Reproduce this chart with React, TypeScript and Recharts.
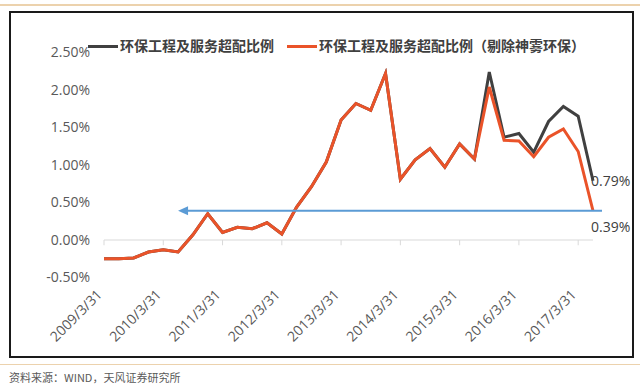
import {
  LineChart,
  Line,
  XAxis,
  YAxis,
  ReferenceLine,
  LabelList,
} from "recharts";

// quarter ends, 2009Q1 - 2017Q2
const dates = [
  "2009/3/31", "2009/6/30", "2009/9/30", "2009/12/31",
  "2010/3/31", "2010/6/30", "2010/9/30", "2010/12/31",
  "2011/3/31", "2011/6/30", "2011/9/30", "2011/12/31",
  "2012/3/31", "2012/6/30", "2012/9/30", "2012/12/31",
  "2013/3/31", "2013/6/30", "2013/9/30", "2013/12/31",
  "2014/3/31", "2014/6/30", "2014/9/30", "2014/12/31",
  "2015/3/31", "2015/6/30", "2015/9/30", "2015/12/31",
  "2016/3/31", "2016/6/30", "2016/9/30", "2016/12/31",
  "2017/3/31", "2017/6/30",
];

// 环保工程及服务超配比例 (%)
const overweight = [
  -0.25, -0.25, -0.24, -0.16, -0.13, -0.16, 0.07, 0.35,
  0.1, 0.17, 0.15, 0.23, 0.08, 0.44, 0.71, 1.04,
  1.6, 1.82, 1.73, 2.22, 0.81, 1.07, 1.22, 0.97,
  1.28, 1.08, 2.24, 1.37, 1.42, 1.17, 1.58, 1.78,
  1.65, 0.79,
];

// 剔除神雾环保 (%)
const overweightEx = [
  -0.25, -0.25, -0.24, -0.16, -0.13, -0.16, 0.07, 0.35,
  0.1, 0.17, 0.15, 0.23, 0.08, 0.44, 0.71, 1.04,
  1.6, 1.82, 1.73, 2.22, 0.81, 1.07, 1.22, 0.97,
  1.28, 1.08, 2.04, 1.33, 1.32, 1.11, 1.37, 1.48,
  1.18, 0.39,
];

const yTicks = [-0.5, 0, 0.5, 1, 1.5, 2, 2.5];
const yearTicks = dates.filter((_, i) => i % 4 === 0);
const arrowFrom = "2010/6/30";
const arrowLevel = 0.39;

const seriesNames = ["环保工程及服务超配比例", "环保工程及服务超配比例（剔除神雾环保）"];

const data = dates.map((d, i) => ({
  date: d,
  all: overweight[i],
  ex: overweightEx[i],
}));

const GREY = "#404040";
const ORANGE = "#ea5329";
const BLUE = "#5b9bd5";
const FONT = "'Open Sans', 'Noto Sans CJK SC', sans-serif";

const pct = (v: number) => `${v.toFixed(2)}%`;

const XTick = (props: any) => {
  const { x, y, payload } = props;
  const ax = x - 1;
  const ay = y + 10;
  return (
    <text
      x={ax}
      y={ay}
      transform={`rotate(-45, ${ax}, ${ay})`}
      textAnchor="end"
      fontSize={14}
      fill="#595959"
      fontFamily={FONT}
    >
      {payload.value}
    </text>
  );
};

const Arrow = (props: any) => {
  const { x1, y1, x2 } = props;
  return (
    <g>
      <line x1={x1 + 8} y1={y1} x2={x2 + 9} y2={y1} stroke={BLUE} strokeWidth={2} />
      <polygon
        points={`${x1},${y1} ${x1 + 10},${y1 - 4.5} ${x1 + 10},${y1 + 4.5}`}
        fill={BLUE}
      />
    </g>
  );
};

const endLabel = (dy: number) => (props: any) => {
  const { x, y, value, index } = props;
  if (index !== dates.length - 1) return null;
  return (
    <text
      x={x - 2}
      y={y + dy}
      dominantBaseline="middle"
      fontSize={14}
      fill="#404040"
      fontFamily={FONT}
    >
      {pct(value)}
    </text>
  );
};

export default function App() {
  return (
    <div
      style={{
        position: "absolute",
        left: 0,
        top: 0,
        width: 640,
        height: 386,
        background: "#fff",
        fontFamily: FONT,
      }}
    >
      <div style={{ position: "absolute", left: 0, top: 4, width: 640, height: 2, background: "#ecd2ad" }} />
      <div
        style={{
          position: "absolute",
          left: 9,
          top: 11,
          width: 621,
          height: 343,
          border: "2px solid #1a1a1a",
        }}
      />
      <LineChart
        width={640}
        height={386}
        data={data}
        margin={{ top: 52.5, right: 47, left: 0, bottom: 28.5 }}
        style={{ position: "absolute", left: 0, top: 0 }}
      >
        <XAxis
          dataKey="date"
          interval={3}
          axisLine={false}
          tickLine={false}
          height={80}
          tick={<XTick />}
        />
        <YAxis
          domain={[-0.5, 2.5]}
          ticks={yTicks}
          width={104}
          axisLine={false}
          tickLine={false}
          tickMargin={8}
          tickFormatter={pct}
          tick={{ fill: "#595959", fontSize: 14, fontFamily: FONT }}
        />
        <ReferenceLine y={0} stroke="#d9d9d9" strokeWidth={1} />
        {yearTicks.map((d) => (
          <ReferenceLine
            key={d}
            segment={[
              { x: d, y: 0 },
              { x: d, y: -0.07 },
            ]}
            stroke="#d9d9d9"
            strokeWidth={1}
          />
        ))}
        <Line
          dataKey="all"
          stroke={GREY}
          strokeWidth={3}
          dot={false}
          isAnimationActive={false}
        >
          <LabelList dataKey="all" content={endLabel(1)} />
        </Line>
        <Line
          dataKey="ex"
          stroke={ORANGE}
          strokeWidth={3}
          dot={false}
          isAnimationActive={false}
        >
          <LabelList dataKey="ex" content={endLabel(17)} />
        </Line>
        <ReferenceLine
          segment={[
            { x: arrowFrom, y: arrowLevel },
            { x: dates[dates.length - 1], y: arrowLevel },
          ]}
          shape={<Arrow />}
        />
      </LineChart>
      {/* legend */}
      <div
        style={{
          position: "absolute",
          left: 88,
          top: 36,
          display: "flex",
          alignItems: "center",
          fontSize: 14,
          fontWeight: "bold",
          color: "#404040",
          whiteSpace: "nowrap",
          lineHeight: "20px",
        }}
      >
        <span style={{ width: 30, height: 3, background: GREY, marginRight: 2 }} />
        <span>{seriesNames[0]}</span>
        <span style={{ width: 30, height: 3, background: ORANGE, margin: "0 2px 0 13px" }} />
        <span>{seriesNames[1]}</span>
      </div>
      <div style={{ position: "absolute", left: 0, top: 364, width: 640, height: 1, background: "#ecd2ad" }} />
      <div
        style={{
          position: "absolute",
          left: 9,
          top: 369,
          fontSize: 11,
          color: "#595959",
          fontFamily: "'Noto Sans CJK SC', sans-serif",
        }}
      >
        资料来源：WIND，天风证券研究所
      </div>
    </div>
  );
}
